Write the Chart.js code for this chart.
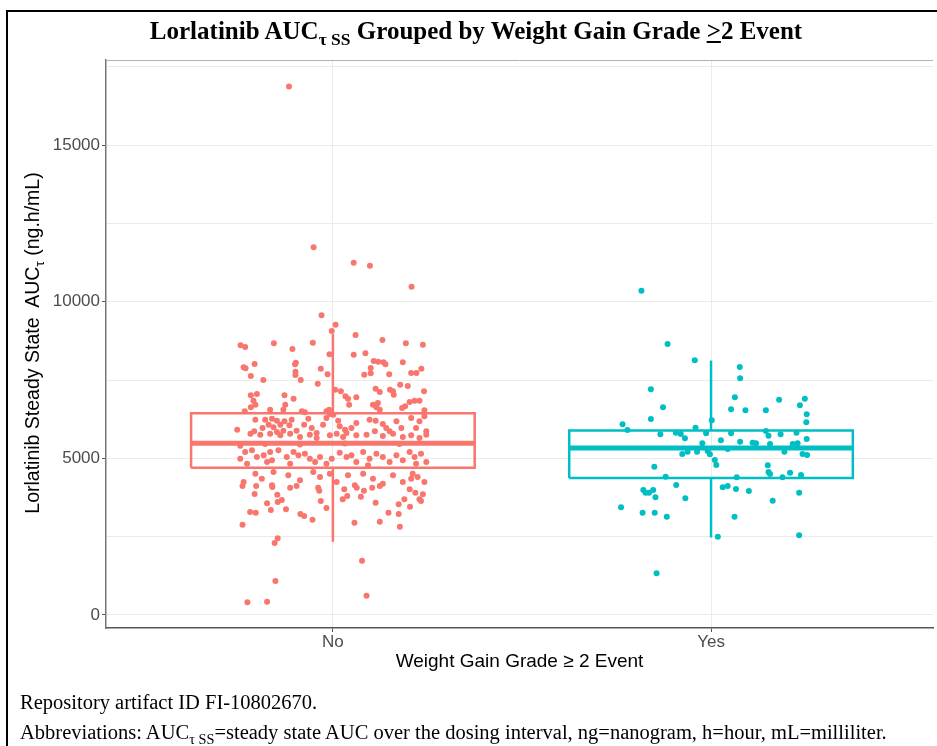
<!DOCTYPE html>
<html>
<head>
<meta charset="utf-8">
<script src="https://cdn.jsdelivr.net/npm/chart.js@4"></script>
<style>
  body { margin: 0; background: #fff; }
  #page { position: relative; width: 937px; height: 746px; overflow: hidden; background: #fff; }
  #frame { position: absolute; left: 6px; top: 10px; right: -10px; bottom: -10px; border-left: 2px solid #000; border-top: 2px solid #000; }
  #wrap { position: absolute; left: 0; top: 0; width: 937px; height: 746px; }
  .serif { font-family: 'Liberation Serif', 'Times New Roman', serif; color: #000; }
  #title { position: absolute; left: 0; width: 952px; top: 17px; text-align: center; font-size: 25px; font-weight: bold; }
  #ytitle { position: absolute; left: -167px; top: 331px; width: 400px; height: 24px; text-align: center;
    transform: rotate(-90deg); font-family: 'Liberation Sans', Arial, sans-serif; font-size: 19.5px; color: #000; }
  #note1 { position: absolute; left: 20px; top: 691px; font-size: 20.5px; }
  #note2 { position: absolute; left: 20px; top: 721px; font-size: 20.5px; }
  sub { font-size: 70%; }
</style>
</head>
<body>
<div id="page">
  <div id="frame"></div>
  <div id="wrap"><canvas id="chart"></canvas></div>
  <div id="title" class="serif">Lorlatinib AUC<sub>&tau; SS</sub> Grouped by Weight Gain Grade <u>&gt;</u>2 Event</div>
  <div id="ytitle">Lorlatinib Steady State&nbsp; AUC<sub>&tau;</sub> (ng.h/mL)</div>
  <div id="note1" class="serif">Repository artifact ID FI-10802670.</div>
  <div id="note2" class="serif">Abbreviations: AUC<sub>&tau; SS</sub>=steady state AUC over the dosing interval, ng=nanogram, h=hour, mL=milliliter.</div>
</div>
<script>
const categories = ['No', 'Yes'];
const yTicks = [0, 2500, 5000, 7500, 10000, 12500, 15000, 17500];

// box stats
const q1 = [4700, 4373];
const median = [5480, 5333];
const q3 = [6437, 5892];
const whiskerLow = [2340, 2470];
const whiskerHigh = [8968, 8120];

// jittered points: [horizontal jitter (category units), AUC]
const noPoints = [
  [-0.116,16870],[-0.051,11735],[0.055,11244],[0.098,11148],[0.208,10478],[-0.030,9565],[0.007,9265],[-0.003,9064],
  [0.060,8936],[0.131,8777],[0.193,8671],[0.238,8627],[-0.244,8607],[-0.232,8553],[-0.156,8671],[-0.107,8489],[-0.053,8690],
  [-0.009,8320],[0.055,8308],[0.086,8352],[0.108,8106],[0.120,8084],[0.134,8065],[0.139,8001],[0.185,8065],[0.234,7861],
  [0.207,7723],[0.221,7723],[-0.207,8011],[-0.236,7905],[-0.231,7873],[-0.098,8052],[-0.100,8001],[-0.032,7861],[-0.099,7765],
  [-0.099,7660],[-0.014,7682],[-0.217,7628],[-0.184,7500],[-0.085,7500],[0.100,7883],[0.100,7714],[0.083,7669],[0.149,7682],
  [-0.040,7382],[0.006,7190],[0.021,7139],[0.033,6980],[0.040,6903],[0.062,6948],[0.043,6712],[0.113,7222],[0.124,7117],
  [0.151,7190],[0.159,7139],[0.161,7031],[0.178,7350],[0.198,7309],[0.241,7139],[0.203,6798],[0.216,6840],[0.229,6840],
  [0.191,6661],[0.183,6606],[0.106,6712],[0.119,6766],[0.115,6629],[0.124,6552],[-0.217,7012],[-0.201,7053],[-0.210,6840],
  [-0.205,6712],[-0.217,6629],[-0.128,7012],[-0.104,6903],[-0.126,6712],[-0.131,6552],[-0.166,6552],[-0.233,6501],[-0.082,6501],
  [-0.074,6469],[-0.017,6501],[-0.010,6552],[0.242,6533],
  [-0.205,6233],[-0.179,6233],[-0.161,6265],[-0.148,6201],[-0.170,6073],[-0.186,5968],[-0.157,5990],[-0.139,6073],[-0.128,6182],
  [-0.109,6233],[-0.115,6054],[-0.131,5882],[-0.148,5840],[-0.208,5863],[-0.253,5914],[-0.065,6265],[-0.076,6073],[-0.056,5968],
  [-0.096,5882],[-0.043,5809],[-0.026,6073],[-0.017,6287],[-0.008,6415],[0.001,6393],[0.014,6201],[0.018,6022],[0.032,5914],
  [0.049,5968],[0.036,5809],[0.062,6128],[0.097,6233],[0.113,6201],[0.132,6096],[0.141,5968],[0.111,5863],[0.150,5863],
  [0.168,6182],[0.181,5968],[0.207,6287],[0.229,6182],[0.242,6341],[0.220,5968],[0.247,5863],
  [-0.218,5786],[-0.192,5754],[-0.166,5786],[-0.139,5735],[-0.113,5786],[-0.087,5681],[-0.061,5754],[-0.043,5649],[-0.008,5735],
  [0.010,5786],[0.027,5681],[0.062,5735],[0.089,5754],[0.132,5713],[0.159,5786],[0.185,5681],[0.207,5735],[0.229,5649],[0.247,5754],
  [-0.179,5460],[-0.087,5440],[0.032,5470],[0.176,5460],[-0.245,5400],
  [-0.245,4988],[-0.232,5202],[-0.214,5256],[-0.201,5043],[-0.183,5097],[-0.166,5202],[-0.161,4937],[-0.144,5256],[-0.122,5043],
  [-0.104,5202],[-0.091,5097],[-0.074,5148],[-0.061,4988],[-0.047,4883],[-0.034,5043],[-0.017,4829],[-0.003,4988],[0.018,5180],
  [0.036,5043],[0.049,5097],[0.062,4883],[0.080,5202],[0.097,4988],[0.115,5148],[0.132,5043],[0.150,4883],[0.168,5097],
  [0.185,4937],[0.203,5202],[0.216,5043],[0.233,5148],[0.247,4883],[0.220,4829],[-0.174,4883],[-0.227,4829],[-0.113,4829],[0.093,4778],
  [-0.236,4245],[-0.205,4510],[-0.188,4350],[-0.157,4564],[-0.161,4139],[-0.118,4459],[-0.087,4299],[-0.052,4564],[-0.034,4404],
  [-0.008,4510],[0.010,4245],[0.040,4459],[0.058,4139],[0.080,4510],[0.106,4350],[0.132,4190],[0.159,4459],[0.185,4245],
  [0.211,4510],[0.224,4404],[0.242,4245],[0.207,4350],
  [-0.239,4117],[-0.203,4117],[-0.160,4085],[-0.113,4063],[-0.096,4117],[-0.039,4063],[-0.036,3967],[0.030,4012],[0.063,4063],
  [0.082,3967],[0.104,4063],[0.124,4117],[0.203,4012],[0.218,3903],[0.238,3852],[0.229,3693],[0.233,3638],[0.189,3693],
  [0.174,3533],[0.204,3456],[-0.207,3862],[-0.147,3839],[-0.174,3565],[-0.146,3606],[-0.135,3670],[-0.164,3351],[-0.219,3287],
  [-0.204,3265],[-0.124,3373],[-0.086,3223],[-0.076,3160],[-0.054,3041],[-0.032,3638],[-0.017,3415],[0.026,3693],[0.038,3798],
  [0.074,3776],[0.113,3584],[0.147,3265],[0.174,3223],[0.124,2978],[0.057,2946],[0.177,2818],[-0.239,2882],[-0.146,2448],
  [-0.154,2298],[0.077,1733],[-0.152,1085],[-0.226,405],[-0.174,424],[0.089,616]
];

const yesPoints = [
  [-0.184,10350],[-0.115,8649],[-0.043,8129],[0.076,7915],[0.077,7554],[-0.159,7203],[0.063,6948],[0.180,6871],[0.248,6903],
  [0.235,6693],[-0.127,6629],[0.053,6565],[0.091,6533],[0.145,6533],[0.253,6405],[-0.159,6255],[0.002,6214],[0.252,6150],
  [-0.234,6086],[-0.221,5904],[-0.041,5978],[0.145,5872],[-0.134,5767],[-0.093,5818],[-0.080,5777],[-0.069,5639],[-0.013,5799],
  [0.053,5799],[0.152,5722],[0.184,5767],[0.226,5818],[0.253,5617],[0.026,5575],[0.077,5531],[0.110,5499],[0.119,5480],
  [-0.023,5480],[0.216,5457],[0.229,5480],[0.156,5457],[0.044,5298],[-0.076,5138],[-0.062,5212],[-0.037,5212],[-0.009,5234],
  [-0.003,5129],[0.194,5212],[0.242,5138],[0.254,5106],[0.010,4947],[0.014,4787],[-0.150,4733],[0.150,4778],[0.152,4564],
  [0.156,4500],[0.209,4541],[0.238,4468],[-0.120,4414],[0.068,4395],[0.189,4395],[-0.092,4149],[-0.179,3989],[-0.173,3903],
  [-0.164,3903],[-0.153,3989],[-0.147,3756],[-0.068,3724],[0.031,4076],[0.044,4117],[0.066,4021],[0.100,3957],[0.163,3648],
  [0.233,3903],[-0.238,3437],[-0.181,3265],[-0.149,3265],[-0.117,3137],[0.062,3137],[0.018,2499],[0.233,2544],[-0.144,1331]
];

const colors = ['#F8766D', '#00BFC4'];
const boxHalf = 0.375;

const datasets = [];
categories.forEach((c, i) => {
  const x = i + 1;
  // box outline
  datasets.push({
    data: [
      { x: x - boxHalf, y: q1[i] }, { x: x + boxHalf, y: q1[i] }, { x: x + boxHalf, y: q3[i] },
      { x: x - boxHalf, y: q3[i] }, { x: x - boxHalf, y: q1[i] }
    ],
    showLine: true, borderColor: colors[i], borderWidth: 2.5, pointRadius: 0, order: 2, tension: 0
  });
  // median
  datasets.push({
    data: [{ x: x - boxHalf, y: median[i] }, { x: x + boxHalf, y: median[i] }],
    showLine: true, borderColor: colors[i], borderWidth: 5, pointRadius: 0, order: 2
  });
  // whiskers
  datasets.push({
    data: [{ x: x, y: q3[i] }, { x: x, y: whiskerHigh[i] }],
    showLine: true, borderColor: colors[i], borderWidth: 2.5, pointRadius: 0, order: 2
  });
  datasets.push({
    data: [{ x: x, y: q1[i] }, { x: x, y: whiskerLow[i] }],
    showLine: true, borderColor: colors[i], borderWidth: 2.5, pointRadius: 0, order: 2
  });
});

datasets.push({
  data: noPoints.map(p => ({ x: 1 + p[0], y: p[1] })),
  backgroundColor: colors[0], borderWidth: 0, pointRadius: 3, order: 1
});
datasets.push({
  data: yesPoints.map(p => ({ x: 2 + p[0], y: p[1] })),
  backgroundColor: colors[1], borderWidth: 0, pointRadius: 3, order: 1
});

// thin grey line along the top of the panel
const panelTop = {
  id: 'panelTop',
  afterDraw(chart) {
    const { ctx, chartArea } = chart;
    ctx.save();
    ctx.strokeStyle = '#b3b3b3';
    ctx.lineWidth = 1;
    ctx.beginPath();
    ctx.moveTo(chartArea.left, chartArea.top + 0.5);
    ctx.lineTo(chartArea.right, chartArea.top + 0.5);
    ctx.stroke();
    ctx.restore();
  }
};

const tickFont = { family: "'Liberation Sans', Arial, sans-serif", size: 17 };

new Chart(document.getElementById('chart'), {
  type: 'scatter',
  data: { datasets },
  plugins: [panelTop],
  options: {
    responsive: true,
    maintainAspectRatio: false,
    animation: false,
    layout: { padding: { top: 60, right: 0, bottom: 73, left: 0 } },
    plugins: { legend: { display: false }, tooltip: { enabled: false } },
    scales: {
      x: {
        type: 'linear', min: 0.4, max: 2.587,
        afterBuildTicks: s => { s.ticks = [{ value: 1 }, { value: 2 }]; },
        afterFit: s => { s.height = 45; },
        ticks: { callback: v => categories[v - 1], color: '#4d4d4d', font: tickFont, padding: 0 },
        grid: { color: '#ebebeb', lineWidth: 1, tickLength: 4, tickColor: '#555' },
        border: { display: true, color: '#555', width: 1.5 },
        title: {
          display: true, text: 'Weight Gain Grade \u2265 2 Event', color: '#000',
          font: { family: "'Liberation Sans', Arial, sans-serif", size: 19 }, padding: { top: 0, bottom: 0 }
        }
      },
      y: {
        type: 'linear', min: -415, max: 17713,
        afterBuildTicks: s => { s.ticks = yTicks.map(v => ({ value: v })); },
        afterFit: s => { s.width = 106; },
        ticks: { callback: v => (v % 5000 === 0 ? v : ''), color: '#4d4d4d', font: tickFont, padding: 2 },
        grid: {
          color: '#ebebeb', lineWidth: 1, tickLength: 4,
          tickColor: c => (c.tick && c.tick.value % 5000 === 0 ? '#555' : 'rgba(0,0,0,0)')
        },
        border: { display: true, color: '#777', width: 1.5 }
      }
    }
  }
});
</script>
</body>
</html>
